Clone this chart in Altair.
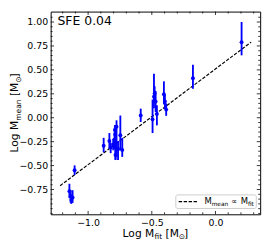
import altair as alt
import pandas as pd

# ---------------- data ----------------
x_fit = [0.205, -0.177, -0.587, -0.494, -0.483, -0.478, -0.470, -0.460,
         -0.405, -0.397, -0.387,
         -0.878, -0.833, -0.823, -0.803, -0.792, -0.790, -0.788, -0.785,
         -0.785, -0.777, -0.765, -0.747, -0.732,
         -1.147, -1.137, -1.132, -1.122, -1.106]
y_mean = [0.790, 0.413, 0.023, -0.017, 0.220, 0.254, 0.170, 0.040,
          0.245, 0.170, 0.085,
          -0.293, -0.243, -0.310, -0.280, -0.226, -0.127, -0.176, -0.310,
          -0.390, -0.094, -0.326, -0.183, -0.336,
          -0.767, -0.823, -0.860, -0.833, -0.548]
y_lo = [0.652, 0.304, -0.044, -0.160, 0.100, 0.180, 0.060, -0.080,
        0.140, 0.090, 0.020,
        -0.360, -0.326, -0.370, -0.340, -0.330, -0.250, -0.300, -0.442,
        -0.440, -0.409, -0.442, -0.342, -0.409,
        -0.840, -0.890, -0.900, -0.890, -0.598]
y_hi = [1.000, 0.553, 0.095, 0.190, 0.460, 0.330, 0.280, 0.130,
        0.380, 0.240, 0.150,
        -0.210, -0.160, -0.260, -0.220, -0.150, -0.077, -0.100, -0.200,
        -0.330, -0.027, -0.243, 0.023, -0.210,
        -0.690, -0.757, -0.800, -0.757, -0.498]

line_x = [-1.22, 0.28]
line_y = [-0.71, 0.79]

x_major = [-1.0, -0.5, 0.0]
y_major = [-0.75, -0.5, -0.25, 0.0, 0.25, 0.5, 0.75, 1.0]
x_minor = [-1.2, -1.1, -0.9, -0.8, -0.7, -0.6, -0.4, -0.3, -0.2, -0.1, 0.1, 0.2, 0.3]
y_minor = [-1.0, -0.95, -0.9, -0.85, -0.8, -0.7, -0.65, -0.6, -0.55, -0.45, -0.4,
           -0.35, -0.3, -0.2, -0.15, -0.1, -0.05, 0.05, 0.1, 0.15, 0.2, 0.3,
           0.35, 0.4, 0.45, 0.55, 0.6, 0.65, 0.7, 0.8, 0.85, 0.9, 0.95, 1.05]

panel_title = "SFE 0.04"

# ---------------- layout ----------------
X_DOMAIN = [-1.294, 0.351]
Y_DOMAIN = [-1.009, 1.109]
W, H = 216, 209
FONT = "DejaVu Sans"
BLUE = "#0000ff"

ADV = {'L': .557, 'o': .612, 'g': .635, ' ': .318, 'M': .863, 'f': .352,
       'i': .278, 't': .392, '[': .390, ']': .390, 'm': .974, 'e': .615,
       'a': .613, 'n': .634, '∝': .838, '⊙': .70, 'S': .635, 'F': .575,
       'E': .632, '0': .636, '.': .318, '4': .636}


def tw(s, fs):
    return sum(ADV.get(c, .6) for c in s) * fs


def rich(pieces, fs, fss, drop):
    """Return list of (text, size, offset_along, offset_down); spaces become offsets."""
    out, pos = [], 0.0
    for t, sub in pieces:
        size = fss if sub else fs
        lead = len(t) - len(t.lstrip(" "))
        body = t.strip(" ")
        if body:
            out.append((body, size, pos + tw(" " * lead, size), drop if sub else 0.0))
        pos += tw(t, size)
    return out, pos


xs = alt.Scale(domain=X_DOMAIN, nice=False, zero=False)
ys = alt.Scale(domain=Y_DOMAIN, nice=False, zero=False)
x_axis = alt.Axis(values=x_major, format=".1f", title=None, ticks=False,
                  domain=False, grid=False, labelPadding=4,
                  labelOverlap=False, labelFlush=False)
y_axis = alt.Axis(values=y_major, format=".2f", title=None, ticks=False,
                  domain=False, grid=False, labelPadding=3,
                  labelOverlap=False, labelFlush=False)

pts = pd.DataFrame({"x": x_fit, "y": y_mean, "lo": y_lo, "hi": y_hi})
line_df = pd.DataFrame({"x": line_x, "y": line_y})
one = pd.DataFrame({"a": [0]})

layers = []

# ticks pointing inward on all four sides
for vals, ln in ((x_major, 3.5), (x_minor, 2.0)):
    d = pd.DataFrame({"v": vals})
    layers.append(alt.Chart(d).mark_rule(color="black", strokeWidth=0.8).encode(
        x=alt.X("v:Q", scale=xs, axis=x_axis), y=alt.value(H), y2=alt.value(H - ln)))
    layers.append(alt.Chart(d).mark_rule(color="black", strokeWidth=0.8).encode(
        x=alt.X("v:Q", scale=xs, axis=x_axis), y=alt.value(0), y2=alt.value(ln)))
for vals, ln in ((y_major, 3.5), (y_minor, 2.0)):
    d = pd.DataFrame({"v": vals})
    layers.append(alt.Chart(d).mark_rule(color="black", strokeWidth=0.8).encode(
        y=alt.Y("v:Q", scale=ys, axis=y_axis), x=alt.value(0), x2=alt.value(ln)))
    layers.append(alt.Chart(d).mark_rule(color="black", strokeWidth=0.8).encode(
        y=alt.Y("v:Q", scale=ys, axis=y_axis), x=alt.value(W), x2=alt.value(W - ln)))

# proportional line
layers.append(alt.Chart(line_df).mark_line(color="black", strokeWidth=1.2,
                                           strokeDash=[3.5, 1.6]).encode(
    x=alt.X("x:Q", scale=xs, axis=x_axis), y=alt.Y("y:Q", scale=ys, axis=y_axis)))

# error bars and points
layers.append(alt.Chart(pts).mark_rule(color=BLUE, strokeWidth=1.9).encode(
    x=alt.X("x:Q", scale=xs, axis=x_axis), y=alt.Y("lo:Q", scale=ys, axis=y_axis),
    y2="hi:Q"))
layers.append(alt.Chart(pts).mark_point(filled=True, color=BLUE, opacity=1,
                                        size=16, shape="circle").encode(
    x=alt.X("x:Q", scale=xs, axis=x_axis), y=alt.Y("y:Q", scale=ys, axis=y_axis)))

# legend box
layers.append(alt.Chart(one).mark_rect(fill="white", fillOpacity=0.85,
                                       stroke="#cccccc", strokeWidth=1,
                                       cornerRadius=2).encode(
    x=alt.value(129), x2=alt.value(212), y=alt.value(H - 20), y2=alt.value(H - 6)))
layers.append(alt.Chart(one).mark_rule(color="black", strokeWidth=1.2,
                                       strokeDash=[3.5, 1.6]).encode(
    x=alt.value(132), x2=alt.value(151), y=alt.value(H - 13)))


def add_text(pieces_out, x0, y0, vertical=False):
    for t, size, along, down in pieces_out:
        if vertical:
            px, py, ang = x0 + down, y0 - along, 270
        else:
            px, py, ang = x0 + along, y0 + down, 0
        layers.append(alt.Chart(one).mark_text(
            text=t, fontSize=size, font=FONT, color="black", align="left",
            baseline="alphabetic", angle=ang).encode(
            x=alt.value(px), y=alt.value(py)))


# legend label
leg, _ = rich([("M", False), ("mean", True), (" ∝ ", False), ("M", False), ("fit", True)],
              8.7, 6.0, 2.0)
add_text(leg, 158.5, H - 11)

# x axis title
xt, xw = rich([("Log M", False), ("fit", True), (" [M", False), ("⊙", True), ("]", False)],
              11, 7.7, 2.6)
add_text(xt, W / 2 - xw / 2, 232)

# y axis title
yt, yw = rich([("Log M", False), ("mean", True), (" [M", False), ("⊙", True), ("]", False)],
              11, 7.7, 2.6)
add_text(yt, -33.5, H / 2 + yw / 2, vertical=True)

# panel title
add_text([(panel_title, 12.8, 0, 0)], 7, 13.5)

chart = alt.layer(*layers).properties(
    width=W, height=H,
    padding={"left": 44, "top": 0, "right": 6, "bottom": 30},
    autosize=alt.AutoSizeParams(type="none"),
).configure_view(stroke="black", strokeWidth=1).configure_axis(
    labelFont=FONT, labelFontSize=9.7, labelColor="black"
)

chart.save("out.html", embed_options={"renderer": "svg", "actions": False})
